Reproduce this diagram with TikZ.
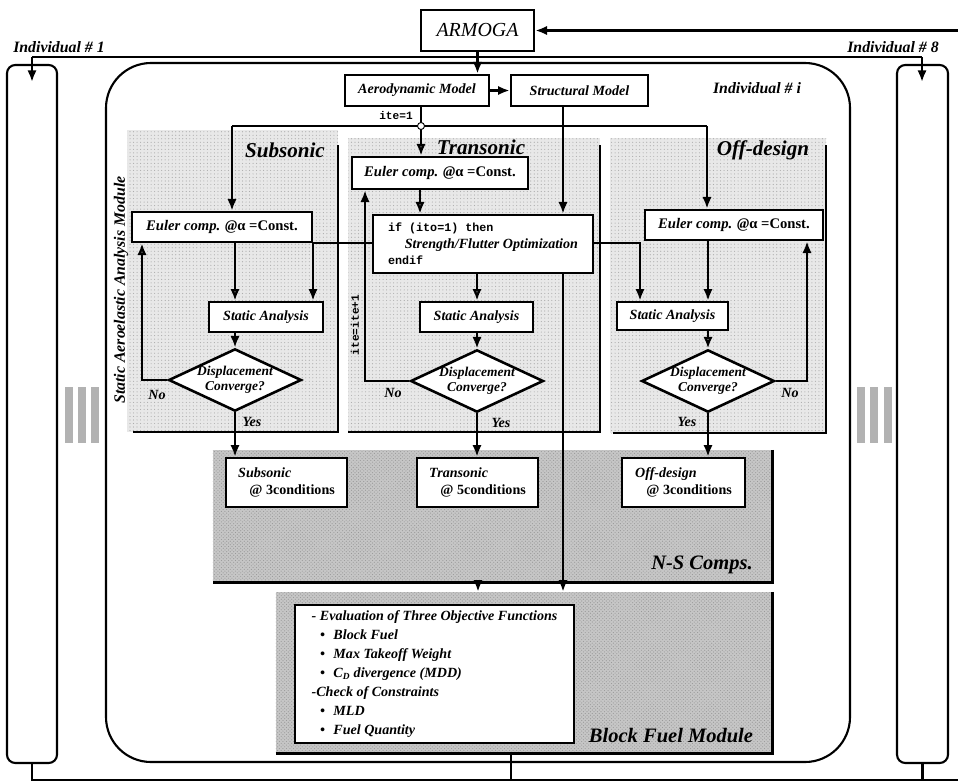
\documentclass[tikz,border=0pt]{standalone}
\usepackage{fontspec}
\setmainfont{Liberation Serif}
\setmonofont{Liberation Mono}
\usetikzlibrary{arrows.meta, shapes.geometric, patterns}

\begin{document}
\begin{tikzpicture}[x=0.03cm, y=-0.03cm,
    lab/.style={font=\bfseries\itshape\fontsize{12}{14}\selectfont},
    ttl/.style={font=\bfseries\itshape\fontsize{18}{20}\selectfont},
    cod/.style={font=\ttfamily\bfseries\fontsize{9.5}{11}\selectfont},
    box/.style={draw, line width=2.2pt, fill=white, inner sep=2pt, lab},
    dec/.style={diamond, draw, line width=2.2pt, fill=white, aspect=2.13, inner sep=0pt, align=center,
        minimum width=3.96cm, minimum height=1.86cm, font=\bfseries\itshape\fontsize{11.5}{12.5}\selectfont},
    res/.style={box, align=left, minimum height=1.47cm, font=\bfseries\fontsize{12}{14}\selectfont},
    arr/.style={line width=2.2pt, -{Latex[length=10pt, width=8pt]}},
    oarr/.style={line width=2.2pt, -{Latex[open, length=10pt, width=8pt]}},
    wire/.style={line width=2.2pt},
    panel/.style={fill=gray!18, postaction={pattern=dots, pattern color=gray!65}},
    grain/.style={fill=gray!45, postaction={pattern=crosshatch dots, pattern color=gray!80}}]

\useasboundingbox[fill=white] (0,0) rectangle (958,782);

% frames
\draw[line width=1.8pt, rounded corners=1.35cm] (106,63) rectangle (850,762);
\node[draw, line width=1.8pt, rounded corners=0.25cm, minimum width=1.5cm, minimum height=20.94cm] (colL) at (32,414) {};
\node[draw, line width=1.8pt, rounded corners=0.25cm, minimum width=1.53cm, minimum height=20.94cm] (colR) at (922.5,414) {};
\foreach \x in {65,78,91,857,870,884}
    \fill[gray!60] (\x,387) rectangle ++(8,56);

% analysis panels
\fill[panel] (127,130) rectangle (338,432);
\draw[wire] (338,145) -- (338,432) -- (133,432);
\fill[panel] (348,138) rectangle (600,432);
\draw[wire] (600,145) -- (600,432) -- (348,432);
\fill[panel] (610,138) rectangle (826,433);
\draw[wire] (826,145) -- (826,433) -- (613,433);

\node[grain, minimum width=16.77cm, minimum height=3.96cm, inner sep=0pt] (nsreg) at (492.5,516) {};
\draw[line width=2.8pt] (nsreg.north east) -- (nsreg.south east) -- (nsreg.south west);
\node[grain, minimum width=14.88cm, minimum height=4.83cm, inner sep=0pt] (bfreg) at (524,672.5) {};
\draw[line width=2.8pt] (bfreg.north east) -- (bfreg.south east) -- (bfreg.south west);

% top
\node[draw, line width=2.2pt, fill=white, minimum width=3.39cm, minimum height=1.23cm, font=\itshape\fontsize{17}{19}\selectfont] (armoga) at (477.5,30.5) {ARMOGA};
\node[box, minimum width=4.32cm, minimum height=0.93cm, font=\bfseries\itshape\fontsize{12}{14}\selectfont] (aero) at (417,90.5) {Aerodynamic Model};
\node[box, minimum width=4.11cm, minimum height=0.93cm, font=\bfseries\itshape\fontsize{12}{14}\selectfont] (struct) at (579.5,90.5) {Structural Model};

\node[font=\bfseries\itshape\fontsize{13.5}{15}\selectfont] (ind1) at (59,47) {Individual \# 1};
\node[font=\bfseries\itshape\fontsize{13.5}{15}\selectfont] (ind8) at (893,47) {Individual \# 8};
\node[font=\bfseries\itshape\fontsize{13.5}{15}\selectfont] (indi) at (757,88) {Individual \# i};

% subsonic
\node[ttl] (tSub) at (285,150) {Subsonic};
\node[box, minimum width=5.4cm, minimum height=0.9cm, font=\bfseries\itshape\fontsize{12.5}{14}\selectfont] (subE) at (222,227) {Euler comp. @\textup{α =Const.}};
\node[box, minimum width=3.42cm, minimum height=0.9cm] (subS) at (266,317) {Static Analysis};
\node[dec] (subD) at (235,380) {Displacement\\Converge?};
\node[res, minimum width=3.63cm] (subR) at (286.5,482.5) {\textit{Subsonic}\\\hspace*{0.8em}@ 3conditions};

% transonic
\node[ttl] (tTra) at (481,147) {Transonic};
\node[box, minimum width=5.28cm, minimum height=0.96cm, font=\bfseries\itshape\fontsize{12.5}{14}\selectfont] (tranE) at (440,173) {Euler comp. @\textup{α =Const.}};
\node[box, minimum width=6.6cm, minimum height=1.74cm, align=left] (strength) at (483,244)
    {{\ttfamily\bfseries\upshape\fontsize{10}{11}\selectfont if (ito=1) then}\\
     \hspace*{1.2em}Strength/Flutter Optimization\\
     {\ttfamily\bfseries\upshape\fontsize{10}{11}\selectfont endif}};
\node[box, minimum width=3.39cm, minimum height=0.9cm] (tranS) at (476.5,317) {Static Analysis};
\node[dec] (tranD) at (477,381) {Displacement\\Converge?};
\node[res, minimum width=3.63cm] (tranR) at (477.5,482.5) {\textit{Transonic}\\\hspace*{0.8em}@ 5conditions};

% off-design
\node[ttl] (tOff) at (763,150) {Off-design};
\node[box, minimum width=5.34cm, minimum height=0.9cm, font=\bfseries\itshape\fontsize{12.5}{14}\selectfont] (offE) at (734,225) {Euler comp. @\textup{α =Const.}};
\node[box, minimum width=3.33cm, minimum height=0.84cm] (offS) at (672.5,316) {Static Analysis};
\node[dec] (offD) at (708,381) {Displacement\\Converge?};
\node[res, minimum width=3.69cm] (offR) at (683.5,482.5) {\textit{Off-design}\\\hspace*{0.8em}@ 3conditions};

% block fuel
\node[box, minimum width=8.37cm, minimum height=4.14cm, align=left, inner sep=4pt, font=\bfseries\itshape\fontsize{12}{16.2}\selectfont] (bfbox) at (434.5,674)
    {- Evaluation of Three Objective Functions\\
     \hspace*{0.6em}•\hspace{0.6em}Block Fuel\\
     \hspace*{0.6em}•\hspace{0.6em}Max Takeoff Weight\\
     \hspace*{0.6em}•\hspace{0.6em}C\textsubscript{D} divergence (MDD)\\
     -Check of Constraints\\
     \hspace*{0.6em}•\hspace{0.6em}MLD\\
     \hspace*{0.6em}•\hspace{0.6em}Fuel Quantity};

\node[ttl, font=\bfseries\itshape\fontsize{17.5}{19}\selectfont] (nsl) at (702,565) {N-S Comps.};
\node[ttl, font=\bfseries\itshape\fontsize{17.5}{19}\selectfont] (bfl) at (671,735) {Block Fuel Module};
\node[font=\bfseries\itshape\fontsize{13.5}{15}\selectfont, rotate=90] (saam) at (121,290) {Static Aeroelastic Analysis Module};

% connectors
\coordinate (in1) at (32,57);
\coordinate (in1e) at (32,82);
\coordinate (in8) at (922,57);
\coordinate (in8e) at (922,82);
\coordinate (ret) at (958,30.5);
\coordinate (jT) at (421,126);
\coordinate (jL) at (232,126);
\coordinate (jR) at (707,126);
\coordinate (sv) at (563,106);
\coordinate (tv) at (420,189);
\coordinate (sL) at (313,243);
\coordinate (sR) at (640,243);
\coordinate (noS) at (142,380);
\coordinate (noT) at (365,381);
\coordinate (noO) at (807,381);
\coordinate (nsv) at (478,582);
\coordinate (bL) at (32,780);
\coordinate (bR) at (958,780);
\coordinate (bm) at (511,780);

\draw[line width=1.6pt] (in1) -- (in8);
\draw[arr] (in1) -- (in1e);
\draw[arr] (in8) -- (in8e);
\draw[arr] (ret) -- (armoga.east);
\draw[arr] (armoga.south) -- (armoga.south |- aero.north);
\draw[arr] (aero.east) -- (struct.west);

\draw[wire] (aero.south -| jT) -- (jT);
\draw[oarr] (jT) -- (jT |- tranE.north);
\draw[wire] (jL) -- (jR);
\draw[arr] (jL) -- (jL |- subE.north);
\draw[arr] (jR) -- (jR |- offE.north);
\draw[fill=white, line width=0.8pt] (jT) circle (3pt);
\node[cod] (ite1) at (396,116) {ite=1};

\draw[arr] (struct.south -| sv) -- (sv |- strength.north);
\draw[oarr] (tranE.south -| tv) -- (tv |- strength.north);
\draw[arr] (strength.west |- sL) -- (sL) -- (sL |- subS.north);
\draw[arr] (strength.east |- sR) -- (sR) -- (sR |- offS.north);

\draw[oarr] (subE.south -| subD.north) -- (subD.north |- subS.north);
\draw[arr] (subS.south -| subD.north) -- (subD.north);
\draw[oarr] (subD.west) -- (noS) -- (noS |- subE.south);
\draw[arr] (subD.south) -- (subD.south |- subR.north);

\draw[oarr] (strength.south -| tranD.north) -- (tranD.north |- tranS.north);
\draw[arr] (tranS.south -| tranD.north) -- (tranD.north);
\draw[arr] (tranD.west) -- (noT) -- (noT |- tranE.south);
\draw[arr] (tranD.south) -- (tranD.south |- tranR.north);
\node[cod, rotate=90] (itei) at (355,325) {ite=ite+1};

\draw[arr] (offE.south -| offD.north) -- (offD.north |- offS.north);
\draw[oarr] (offS.south -| offD.north) -- (offD.north);
\draw[arr] (offD.east) -- (noO) -- (noO |- offE.south);
\draw[arr] (offD.south) -- (offD.south |- offR.north);

\node[lab] (noSl) at (157,395) {No};
\node[lab] (yesSl) at (252,422) {Yes};
\node[lab] (noTl) at (393,393) {No};
\node[lab] (yesTl) at (501,423) {Yes};
\node[lab] (noOl) at (790,393) {No};
\node[lab] (yesOl) at (687,422) {Yes};

\draw[arr] (strength.south -| sv) -- (sv |- bfreg.north);
\draw[arr] (nsreg.south -| nsv) -- (nsv |- bfreg.north);
\draw[wire] (colL.south) -- (bL) -- (bR);
\draw[wire] (colR.south) -- (colR.south |- bR);
\draw[wire] (bfreg.south -| bm) -- (bm);

\end{tikzpicture}
\end{document}
